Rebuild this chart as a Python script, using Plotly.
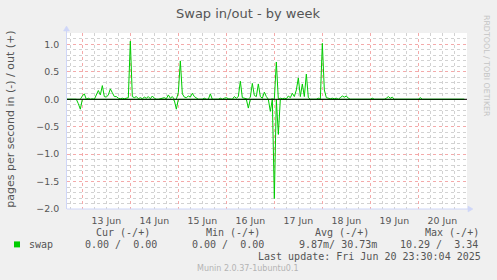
import plotly.graph_objects as go
import pandas as pd

# ---------------- data (pages per second, hourly averages) ----------------
start_time = "2025-06-12 16:00"
n_points = 200

# swap out (+), one row per day (first row: 12 Jun 16:00-23:00)
swap_out = (
    [0, 0, 0, 0, 0, 0, 0, 0]
    + [0.06, 0.10, 0, 0.02, 0, 0.01, 0, 0.09, 0.16, 0.08, 0.25, 0.05,
       0.04, 0.08, 0.19, 0.12, 0.05, 0.05, 0.02, 0.01, 0.02, 0.01, 0.02, 0.03]
    + [1.06, 0.05, 0.03, 0.05, 0.01, 0.03, 0.01, 0.04, 0.02, 0.05, 0.01, 0.06,
       0.02, 0, 0, 0.01, 0.02, 0.03, 0.01, 0.08, 0.02, 0.05, 0, 0]
    + [0.12, 0.70, 0.10, 0.04, 0.03, 0.06, 0.04, 0.11, 0.05, 0.02, 0, 0,
       0, 0.02, 0, 0, 0.10, 0, 0, 0, 0, 0.02, 0, 0.02]
    + [0.03, 0.01, 0, 0, 0.05, 0.02, 0.05, 0.33, 0.03, 0.02, 0.01, 0,
       0.04, 0.29, 0.07, 0.05, 0.28, 0.05, 0.02, 0.13, 0.05, 0, 0, 0.01]
    + [0, 0.68, 0, 0.02, 0.01, 0.02, 0.01, 0.06, 0.03, 0.11, 0.05, 0.17,
       0.39, 0.05, 0.28, 0.05, 0.46, 0.03, 0, 0, 0, 0, 0.02, 0]
    + [1.02, 0.17, 0.03, 0.02, 0.01, 0.02, 0.01, 0.02, 0, 0.03, 0.06, 0.04,
       0.06, 0.02, 0, 0, 0, 0, 0, 0, 0, 0, 0, 0]
    + [0, 0.02, 0, 0, 0, 0, 0, 0, 0.02, 0.05, 0.02, 0.04,
       0, 0, 0, 0, 0, 0, 0, 0, 0, 0, 0, 0]
    + [0, 0.03, 0, 0, 0, 0, 0, 0, 0, 0, 0, 0,
       0, 0, 0, 0, 0, 0, 0, 0, 0, 0, 0, 0]
)

# swap in (-), drawn below zero
swap_in = (
    [0, 0, 0, 0, 0, 0, 0.08, 0.18]
    + [0] * 24
    + [0, 0, 0, 0, 0, 0, 0, 0, 0, 0, 0, 0,
       0, 0, 0, 0, 0, 0, 0, 0, 0, 0, 0.02, 0.18]
    + [0] * 24
    + [0, 0, 0, 0, 0, 0, 0, 0, 0, 0, 0, 0.16,
       0, 0, 0, 0, 0, 0, 0, 0, 0, 0, 0.22, 0]
    + [1.81, 0, 0.64, 0, 0, 0, 0, 0, 0, 0, 0, 0,
       0, 0, 0, 0, 0, 0, 0, 0, 0, 0, 0, 0]
    + [0] * 24
    + [0] * 24
    + [0] * 24
)

x_range = ["2025-06-12 16:20", "2025-06-21 00:20"]
y_range = [-2.0, 1.209]

legend_headers = ["Cur (-/+)", "Min (-/+)", "Avg (-/+)", "Max (-/+)"]
legend_values = ["0.00 /  0.00", "0.00 /  0.00", "9.87m/ 30.73m", "10.29 /  3.34"]
series_name = "swap"
last_update = "Last update: Fri Jun 20 23:30:04 2025"
title_text = "Swap in/out - by week"
y_title = "pages per second in (-) / out (+)"
watermark = "RRDTOOL / TOBI OETIKER"
footer = "Munin 2.0.37-1ubuntu0.1"

times = pd.date_range(start_time, periods=n_points, freq="h")

# ---------------- layout helpers (pixel -> paper) ----------------
W, H = 497, 280
L, R, T, B = 67, 30, 33, 70.5
PW, PH = W - L - R, H - T - B


def px(x):
    return (x - L) / PW


def py(y):
    return (H - B - y) / PH


GREEN = "#00CC00"
FONT = "#555555"

fig = go.Figure()
fig.add_trace(go.Scatter(x=times, y=swap_out, mode="lines",
                         line=dict(color=GREEN, width=1), hoverinfo="skip"))
fig.add_trace(go.Scatter(x=times, y=[-v for v in swap_in], mode="lines",
                         line=dict(color=GREEN, width=1), hoverinfo="skip"))

grid_minor = "#D2D2D2"
grid_major = "#F4AAAA"

fig.update_layout(
    width=W, height=H,
    margin=dict(l=L, r=R, t=T, b=B),
    paper_bgcolor="#F0F0F0",
    plot_bgcolor="#FFFFFF",
    showlegend=False,
    font=dict(family="DejaVu Sans", color=FONT, size=9.4),
    xaxis=dict(
        type="date", range=x_range,
        tick0="2025-06-13", dtick=86400000,
        ticklabelmode="period", tickformat="%d %b",
        showgrid=True, gridcolor=grid_major, griddash="dot", gridwidth=1,
        minor=dict(dtick=21600000, tick0="2025-06-13", showgrid=True,
                   gridcolor=grid_minor, griddash="dot", gridwidth=1),
        ticks="outside", ticklen=3, tickcolor="rgba(0,0,0,0)",
        showline=False, zeroline=False,
        tickfont=dict(size=9.4, color=FONT),
        fixedrange=True,
    ),
    yaxis=dict(
        range=y_range, tick0=0, dtick=0.5, tickformat=".1f",
        showgrid=True, gridcolor=grid_major, griddash="dot", gridwidth=1,
        minor=dict(dtick=0.1, showgrid=True, gridcolor=grid_minor,
                   griddash="dot", gridwidth=1),
        ticks="outside", ticklen=5, tickcolor="rgba(0,0,0,0)",
        showline=False, zeroline=False,
        tickfont=dict(size=9.4, color=FONT),
        fixedrange=True,
    ),
)

AXIS = "#CFD6F8"
shapes = [
    # zero rule
    dict(type="line", xref="paper", yref="y", x0=0, x1=1, y0=0, y1=0,
         line=dict(color="#000000", width=1), layer="above"),
    # x axis + arrow
    dict(type="line", xref="paper", yref="paper", x0=px(67), x1=px(469),
         y0=py(209.5), y1=py(209.5), line=dict(color=AXIS, width=1), layer="above"),
    dict(type="path", xref="paper", yref="paper",
         path=f"M {px(468)},{py(206.5)} L {px(473)},{py(209.5)} L {px(468)},{py(212.5)} Z",
         fillcolor=AXIS, line=dict(color=AXIS, width=0.5), layer="above"),
    # y axis + arrow
    dict(type="line", xref="paper", yref="paper", x0=px(66.5), x1=px(66.5),
         y0=py(209.5), y1=py(30), line=dict(color=AXIS, width=1), layer="above"),
    dict(type="path", xref="paper", yref="paper",
         path=f"M {px(63.5)},{py(31)} L {px(66.5)},{py(26)} L {px(69.5)},{py(31)} Z",
         fillcolor=AXIS, line=dict(color=AXIS, width=0.5), layer="above"),
    # legend colour box
    dict(type="rect", xref="paper", yref="paper", x0=px(14), x1=px(20),
         y0=py(248), y1=py(242), fillcolor=GREEN, line=dict(width=0)),
]
fig.update_layout(shapes=shapes)

ann = []


def text(s, x, y, size, color=FONT, family="DejaVu Sans", xanchor="left", angle=0):
    ann.append(dict(text=s, x=px(x), y=py(y), xref="paper", yref="paper",
                    showarrow=False, xanchor=xanchor, yanchor="middle",
                    textangle=angle, font=dict(size=size, color=color, family=family)))


text(title_text, 247.5, 13.5, 13, xanchor="center")
text(y_title, 11, 120, 11, xanchor="center", angle=-90)
text(watermark, 486, 66, 7.9, color="#C4C4C4", xanchor="center", angle=90)

MONO = "DejaVu Sans Mono"
header_x = [94.3, 204, 313, 422.7]
value_x = [82.7, 190, 296.7, 398.3]
for hx, hs in zip(header_x, legend_headers):
    text(hs, hx, 232.7, 10, family=MONO)
text(series_name, 26.7, 244.7, 10, family=MONO)
for vx, vs in zip(value_x, legend_values):
    text(vs, vx, 244.7, 10, family=MONO)
text(last_update, 482.5, 256.7, 10, family=MONO, xanchor="right")
text(footer, 247.8, 269, 8, color="#B4B4B4", xanchor="center")

fig.update_layout(annotations=ann)

fig.write_html("out.html")
